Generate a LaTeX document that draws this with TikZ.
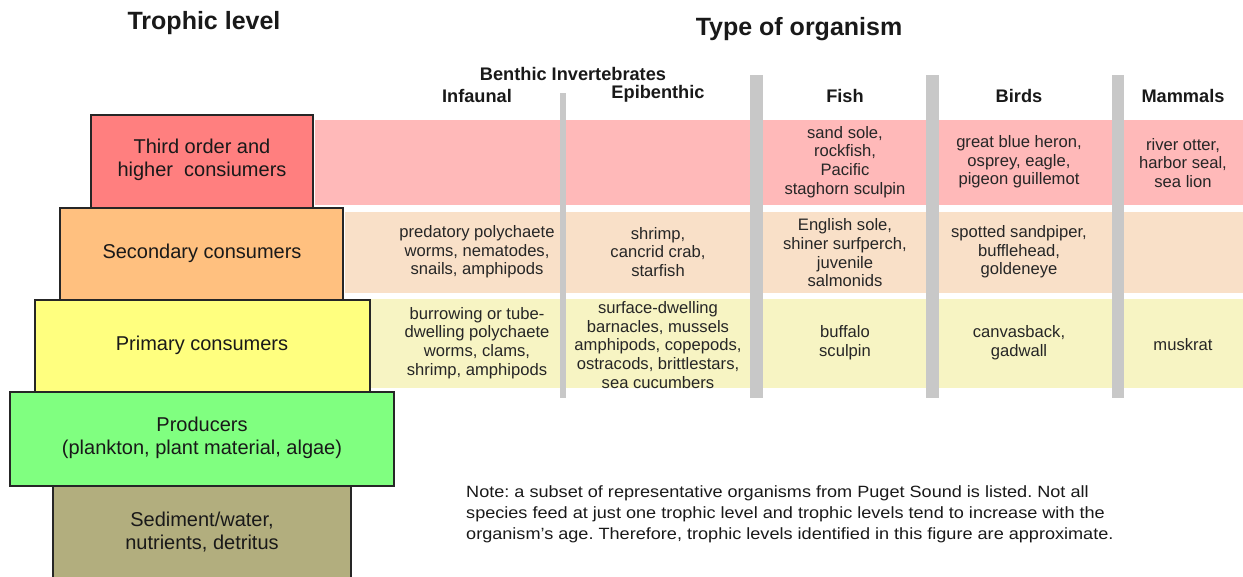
\documentclass[tikz,border=0pt]{standalone}
\usepackage{fontspec}
\setmainfont{Liberation Sans}
\newfontfamily\notefont[FakeStretch=1.11]{Liberation Sans}
\definecolor{bandred}{HTML}{FFB9B9}
\definecolor{bandpeach}{HTML}{F9E0C8}
\definecolor{bandyellow}{HTML}{F7F4C3}
\definecolor{barg}{HTML}{C8C8C8}
\definecolor{cthird}{HTML}{FF7F7F}
\definecolor{csec}{HTML}{FFC07F}
\definecolor{cprim}{HTML}{FFFF7F}
\definecolor{cprod}{HTML}{80FF80}
\definecolor{csed}{HTML}{B2AE7E}
\begin{document}
\frenchspacing
\begin{tikzpicture}[x=1pt,y=-1pt,
  lvl/.style={draw=black!85, line width=1.3pt, rectangle, inner sep=0pt},
  lbl/.style={align=center, inner sep=0pt, font=\fontsize{20}{22.7}\selectfont, text=black!90},
  cell/.style={align=center, inner sep=0pt, font=\fontsize{16.6}{18.7}\selectfont, text=black!85},
  head/.style={align=center, inner sep=0pt, font=\bfseries\fontsize{18.2}{20}\selectfont, text=black!90},
  title/.style={align=center, inner sep=0pt, font=\bfseries\fontsize{25}{28}\selectfont, text=black!90},
  bar/.style={fill=barg}]
\useasboundingbox (0,0) rectangle (1243,576);
\begin{scope}
\clip (0,0) rectangle (1243,576);
% bands
\fill[bandred] (315,120) rectangle (1243,205);
\fill[bandpeach] (345,212) rectangle (1243,293);
\fill[bandyellow] (370,299) rectangle (1243,388);
% bars
\fill[bar] (560,93) rectangle (566,398);
\fill[bar] (750,75) rectangle (763,398);
\fill[bar] (926,75) rectangle (939,398);
\fill[bar] (1112,75) rectangle (1124,398);
% pyramid
\node[lvl, fill=cthird, minimum width=222pt, minimum height=93pt] (third) at (202,161.5) {};
\node[lvl, fill=csec, minimum width=283pt, minimum height=92pt] (sec) at (201.5,254) {};
\node[lvl, fill=cprim, minimum width=335pt, minimum height=92pt] (prim) at (202.5,346) {};
\node[lvl, fill=cprod, minimum width=384pt, minimum height=94pt] (prod) at (202,439) {};
\node[lvl, fill=csed, minimum width=298pt, minimum height=114pt] (sed) at (202,543) {};
\end{scope}
\node[lbl] (thirdl) at (202,160) {Third order and\\higher\ \ consiumers};
\node[lbl] (secl) at (202,253) {Secondary consumers};
\node[lbl] (priml) at (202,345) {Primary consumers};
\node[lbl] (prodl) at (202,438) {Producers\\(plankton, plant material, algae)};
\node[lbl] (sedl) at (202,532) {Sediment/water,\\nutrients, detritus};
% titles
\node[title] (t1) at (204,23) {Trophic level};
\node[title] (t2) at (799,29) {Type of organism};
% headers
\node[head] (hb) at (573,74) {Benthic Invertebrates};
\node[head] (hi) at (477,96) {Infaunal};
\node[head] (he) at (658,94) {Epibenthic};
\node[head] (hf) at (845,96) {Fish};
\node[head] (hbi) at (1019,96) {Birds};
\node[head] (hm) at (1183,96) {Mammals};
% red band
\node[cell] (f3) at (845,162) {sand sole,\\rockfish,\\Pacific\\staghorn sculpin};
\node[cell] (b3) at (1019,162) {great blue heron,\\osprey, eagle,\\pigeon guillemot};
\node[cell] (m3) at (1183,163) {river otter,\\harbor seal,\\sea lion};
% peach band
\node[cell] (i2) at (477,252) {predatory polychaete\\worms, nematodes,\\snails, amphipods};
\node[cell] (e2) at (658,252) {shrimp,\\cancrid crab,\\starfish};
\node[cell] (f2) at (845,253) {English sole,\\shiner surfperch,\\juvenile\\salmonids};
\node[cell] (b2) at (1019,252) {spotted sandpiper,\\bufflehead,\\goldeneye};
% yellow band
\node[cell] (i1) at (477,343) {burrowing or tube-\\dwelling polychaete\\worms, clams,\\shrimp, amphipods};
\node[cell] (e1) at (658,345) {surface-dwelling\\barnacles, mussels\\amphipods, copepods,\\ostracods, brittlestars,\\sea cucumbers};
\node[cell] (f1) at (845,343) {buffalo\\sculpin};
\node[cell] (b1) at (1019,343) {canvasback,\\gadwall};
\node[cell] (m1) at (1183,345) {muskrat};
% note
\node[anchor=west, align=left, inner sep=0pt, font=\notefont\fontsize{16.3}{21}\selectfont, text=black!90] (note) at (466,514) {Note: a subset of representative organisms from Puget Sound is listed. Not all\\species feed at just one trophic level and trophic levels tend to increase with the\\organism’s age. Therefore, trophic levels identified in this figure are approximate.};
\end{tikzpicture}
\end{document}
